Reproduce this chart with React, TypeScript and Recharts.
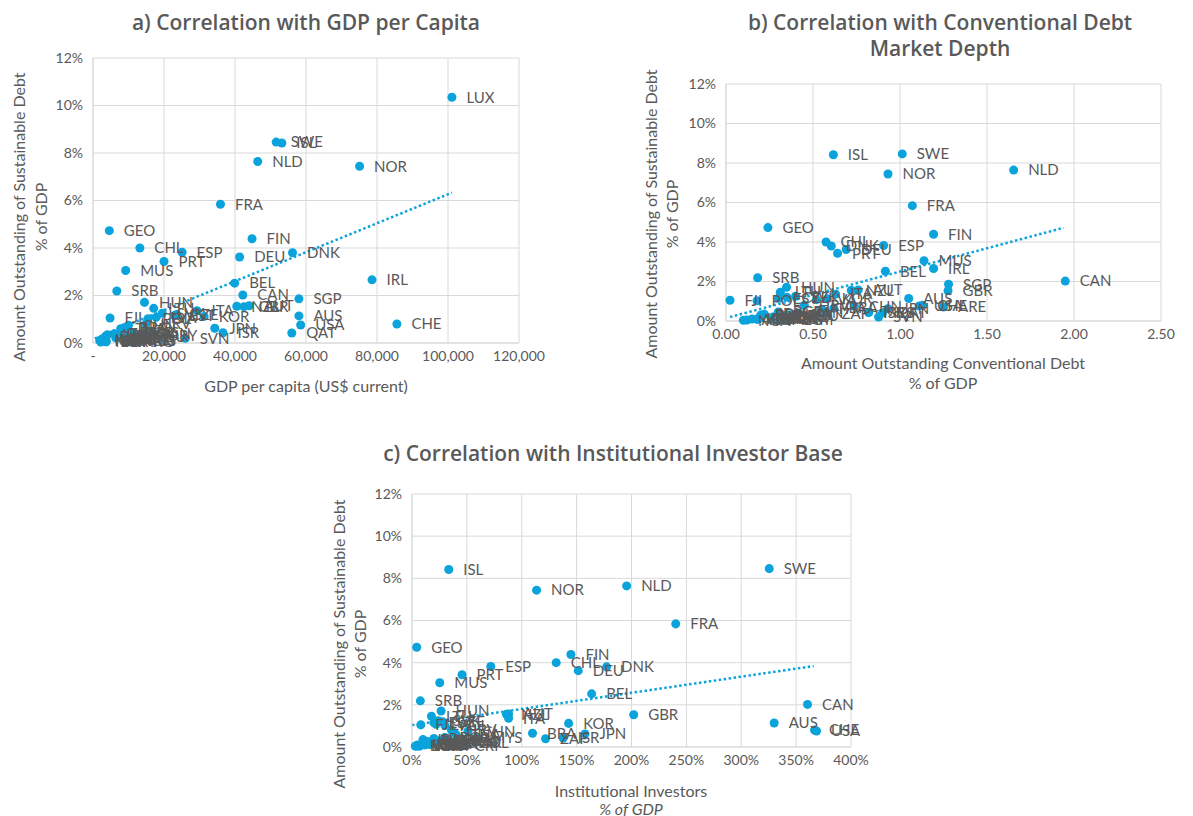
import React from 'react'
import {
  ScatterChart,
  Scatter,
  XAxis,
  YAxis,
  ZAxis,
  CartesianGrid,
  ReferenceLine,
  LabelList,
} from 'recharts'

// values; null = country not shown in that panel
const countries = [
  'LUX', 'SWE', 'ISL', 'NLD', 'NOR', 'FRA', 'GEO', 'FIN', 'CHL', 'ESP',
  'DNK', 'DEU', 'PRT', 'MUS', 'IRL', 'BEL', 'SRB', 'CAN', 'SGP', 'HUN',
  'GBR', 'NZL', 'AUT', 'ITA', 'KOR', 'AUS', 'CHE', 'USA', 'ARE', 'JPN',
  'ISR', 'QAT', 'LTU', 'SVK', 'CZE', 'EST', 'LVA', 'FJI', 'POL', 'CHN',
  'HRV', 'THA', 'MYS', 'BRA', 'ZAF', 'SVN', 'MEX', 'IDN', 'IND', 'PHL',
  'COL', 'PER', 'CRI', 'TUR', 'RUS', 'ARG', 'ROU', 'BGR', 'KAZ', 'VNM',
  'URY', 'EGY', 'KEN', 'MAR', 'PAN', 'UKR', 'NGA',
]

// Amount outstanding of sustainable debt, % of GDP
const sustainableDebt = [
  10.35, 8.46, 8.42, 7.64, 7.44, 5.84, 4.73, 4.39, 4.0, 3.82,
  3.8, 3.62, 3.43, 3.05, 2.66, 2.52, 2.19, 2.02, 1.86, 1.71,
  1.53, 1.55, 1.57, 1.36, 1.12, 1.14, 0.8, 0.76, 0.71, 0.62,
  0.43, 0.42, 1.46, 1.25, 1.2, 1.15, 1.08, 1.05, 1.02, 0.75,
  0.8, 0.6, 0.44, 0.65, 0.39, 0.2, 0.3, 0.35, 0.12, 0.28,
  0.22, 0.3, 0.08, 0.18, 0.1, 0.05, 0.25, 0.45, 0.15, 0.05,
  0.3, 0.05, 0.1, 0.2, 0.4, 0.1, 0.04,
]

// GDP per capita, US$ current
const gdpPerCapita = [
  101100, 51600, 53200, 46400, 75100, 35900, 4600, 44800, 13200, 25100,
  56200, 41300, 20000, 9200, 78600, 39900, 6700, 42200, 58000, 14500,
  42500, 40500, 44000, 29300, 31300, 58000, 85600, 58500, null, 34300,
  36600, 56000, 17100, 19500, 23500, 23000, 17800, 4800, 15500, 10000,
  14900, 7800, 11400, 8900, 6000, 26000, 9900, 4100, 2100, 3500,
  6400, 7000, 12500, 9100, 11300, 10000, 13000, 10000, 9700, 3700,
  17000, 3600, 1900, 3300, 15000, 3700, 2200,
]

// Amount outstanding conventional debt, % of GDP
const conventionalDebt = [
  null, 1.013, 0.617, 1.653, 0.931, 1.071, 0.241, 1.193, 0.575, 0.906,
  0.605, 0.691, 0.641, 1.138, 1.193, 0.916, 0.182, 1.95, 1.279, 0.348,
  1.276, 0.72, 0.76, 0.63, 0.582, 1.05, 1.13, 1.11, 1.25, 0.93,
  0.82, 0.9, 0.312, 0.4, 0.35, 0.3, 0.52, 0.023, 0.178, 0.738,
  0.45, 0.55, 0.82, 0.62, 0.58, 0.877, 0.35, 0.22, 0.26, 0.2,
  0.32, 0.2, 0.18, 0.3, 0.28, 0.12, 0.38, 0.3, 0.2, 0.33,
  0.37, 0.36, 0.15, 0.27, 0.42, 0.18, 0.1,
]

// Institutional investors, % of GDP
const institutionalInvestors = [
  null, 325.5, 33.5, 195.6, 113.5, 240.3, 4.3, 144.8, 131.4, 71.8,
  177.3, 151.5, 45.6, 25.3, null, 163.7, 7.6, 360.4, null, 26.5,
  202, 86, 88, 88, 142.7, 330, 366.8, 368.6, null, 157.6,
  137.8, null, 17.7, 24, 28, 20, 22, 8, 30, 51,
  36, 40, 59, 109.8, 121.7, 38, 32, 10, 16, 12,
  48, 25, 44, 20, 9, 7, 15, 30, 12, 6,
  30, 4, 12, 38, 20, 5, 3,
]

const pctTicks = [0, 2, 4, 6, 8, 10, 12]
const gdpTicks = [0, 20000, 40000, 60000, 80000, 100000, 120000]
const debtTicks = [0, 0.5, 1, 1.5, 2, 2.5]
const investorTicks = [0, 50, 100, 150, 200, 250, 300, 350, 400]

// dotted linear trend lines, end points
const gdpTrend = [{ x: 500, y: 0.19 }, { x: 101100, y: 6.33 }]
const debtTrend = [{ x: 0.023, y: 0.2 }, { x: 1.94, y: 4.72 }]
const investorTrend = [{ x: 0, y: 1.04 }, { x: 366, y: 3.84 }]

const BLUE = '#0AA3DC'
const GREY = '#595959'
const GRID = '#D9D9D9'
const FONT = 'Lato, "Open Sans", sans-serif'
const TITLE_FONT = '"Open Sans", Lato, sans-serif'

function buildPoints(xs: (number | null)[]) {
  const out: { name: string; x: number; y: number }[] = []
  countries.forEach((name, i) => {
    const x = xs[i]
    if (x !== null && x !== undefined) out.push({ name, x, y: sustainableDebt[i] })
  })
  return out
}

interface PanelProps {
  data: { name: string; x: number; y: number }[]
  left: number
  top: number
  width: number
  height: number
  margin: { top: number; right: number; bottom: number; left: number }
  yAxisWidth: number
  xDomain: [number, number]
  xTicks: number[]
  xFormat: (v: number) => string
  trend: { x: number; y: number }[]
}

function Panel(p: PanelProps) {
  return (
    <div style={{ position: 'absolute', left: p.left, top: p.top }}>
      <ScatterChart width={p.width} height={p.height} margin={p.margin}>
        <CartesianGrid stroke={GRID} strokeWidth={1} />
        <XAxis
          type="number"
          dataKey="x"
          domain={p.xDomain}
          ticks={p.xTicks}
          tickFormatter={p.xFormat}
          axisLine={{ stroke: GRID }}
          tickLine={false}
          tickSize={0}
          tickMargin={8}
          height={30}
          tick={{ fontSize: 14, fill: GREY, fontFamily: FONT }}
          interval={0}
        />
        <YAxis
          type="number"
          dataKey="y"
          domain={[0, 12]}
          ticks={pctTicks}
          tickFormatter={(v: number) => `${v}%`}
          axisLine={{ stroke: GRID }}
          tickLine={false}
          tickSize={0}
          tickMargin={10}
          width={p.yAxisWidth}
          tick={{ fontSize: 14, fill: GREY, fontFamily: FONT }}
          interval={0}
        />
        <ZAxis range={[72, 72]} />
        <ReferenceLine
          segment={[p.trend[0], p.trend[1]]}
          stroke={BLUE}
          strokeWidth={2.5}
          strokeDasharray="2.5 2.5"
        />
        <Scatter data={p.data} fill={BLUE} isAnimationActive={false}>
          <LabelList
            dataKey="name"
            position="right"
            offset={10}
            fill={GREY}
            fontSize={15}
            fontFamily={FONT}
          />
        </Scatter>
      </ScatterChart>
    </div>
  )
}

function RotatedLabel({ x, y, text }: { x: number; y: number; text: string }) {
  return (
    <text
      transform={`translate(${x},${y}) rotate(-90)`}
      textAnchor="middle"
      dominantBaseline="central"
      fontSize={16}
      fill={GREY}
    >
      {text}
    </text>
  )
}

export default function App() {
  const titleStyle = { fontSize: 21, fontWeight: 600, fill: GREY, fontFamily: TITLE_FONT }
  return (
    <div
      style={{
        position: 'absolute',
        left: 0,
        top: 0,
        width: 1193,
        height: 816,
        background: '#fff',
        fontFamily: FONT,
      }}
    >
      <svg width={1193} height={816} style={{ position: 'absolute', left: 0, top: 0 }} fontFamily={FONT}>
        <text x={306} y={22} textAnchor="middle" dominantBaseline="central" {...titleStyle}>
          a) Correlation with GDP per Capita
        </text>
        <text x={940} y={22} textAnchor="middle" dominantBaseline="central" {...titleStyle}>
          b) Correlation with Conventional Debt
        </text>
        <text x={940} y={48} textAnchor="middle" dominantBaseline="central" {...titleStyle}>
          Market Depth
        </text>
        <text x={613} y={453} textAnchor="middle" dominantBaseline="central" {...titleStyle}>
          c) Correlation with Institutional Investor Base
        </text>

        <RotatedLabel x={18} y={217} text="Amount Outstanding of Sustainable Debt" />
        <RotatedLabel x={40} y={217} text="% of GDP" />
        <RotatedLabel x={650} y={214} text="Amount Outstanding of Sustainable Debt" />
        <RotatedLabel x={671} y={214} text="% of GDP" />
        <RotatedLabel x={338} y={644} text="Amount Outstanding of Sustainable Debt" />
        <RotatedLabel x={359} y={644} text="% of GDP" />

        <text x={306} y={385} textAnchor="middle" dominantBaseline="central" fontSize={16} fill={GREY}>
          GDP per capita (US$ current)
        </text>
        <text x={943} y={362} textAnchor="middle" dominantBaseline="central" fontSize={16} fill={GREY}>
          Amount Outstanding Conventional Debt
        </text>
        <text x={943} y={382} textAnchor="middle" dominantBaseline="central" fontSize={16} fill={GREY}>
          % of GDP
        </text>
        <text x={631} y={790} textAnchor="middle" dominantBaseline="central" fontSize={16} fill={GREY}>
          Institutional Investors
        </text>
        <text
          x={631}
          y={808}
          textAnchor="middle"
          dominantBaseline="central"
          fontSize={16}
          fontStyle="italic"
          fill={GREY}
        >
          % of GDP
        </text>
      </svg>

      <Panel
        data={buildPoints(gdpPerCapita)}
        left={0}
        top={0}
        width={560}
        height={400}
        margin={{ top: 58, right: 41, bottom: 27, left: 33 }}
        yAxisWidth={60}
        xDomain={[0, 120000]}
        xTicks={gdpTicks}
        xFormat={(v: number) => (v === 0 ? '-' : v.toLocaleString('en-US'))}
        trend={gdpTrend}
      />
      <Panel
        data={buildPoints(conventionalDebt)}
        left={680}
        top={0}
        width={513}
        height={400}
        margin={{ top: 84, right: 32, bottom: 49, left: 6 }}
        yAxisWidth={40}
        xDomain={[0, 2.5]}
        xTicks={debtTicks}
        xFormat={(v: number) => v.toFixed(2)}
        trend={debtTrend}
      />
      <Panel
        data={buildPoints(institutionalInvestors)}
        left={360}
        top={420}
        width={520}
        height={396}
        margin={{ top: 74, right: 29, bottom: 39, left: 7 }}
        yAxisWidth={45}
        xDomain={[0, 400]}
        xTicks={investorTicks}
        xFormat={(v: number) => `${v}%`}
        trend={investorTrend}
      />
    </div>
  )
}
